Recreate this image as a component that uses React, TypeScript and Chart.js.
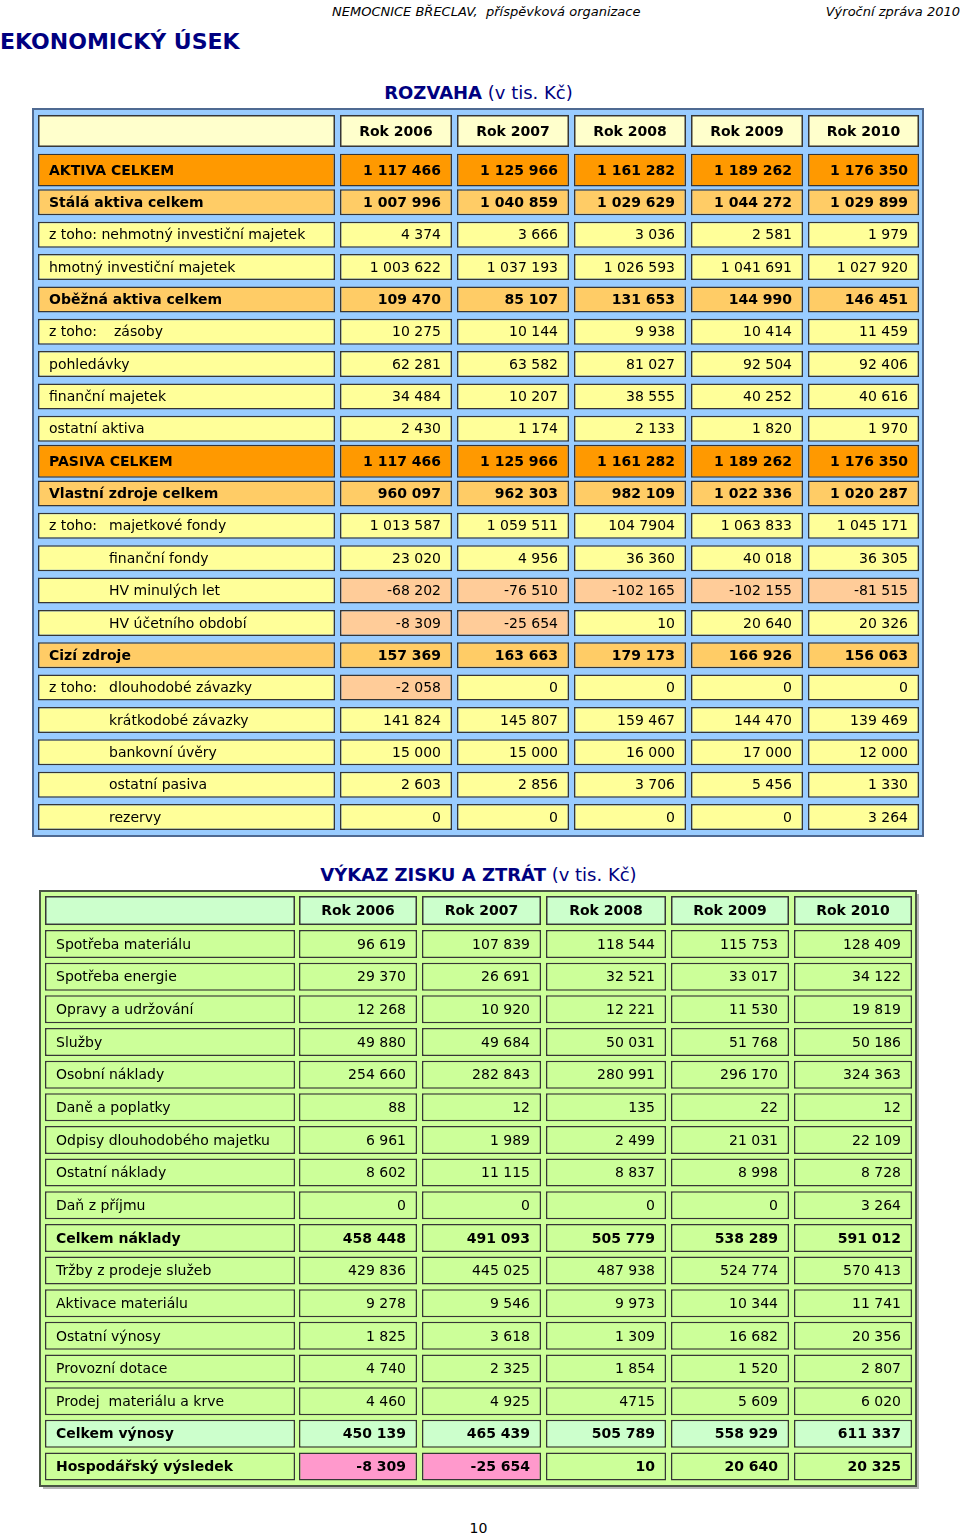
import React, { useEffect, useRef } from 'react';
import { Chart, registerables } from 'chart.js';

Chart.register(...registerables);

const FONT = '"DejaVu Sans", Verdana, sans-serif';

// ---------- DATA ----------
const YEARS = ['Rok 2006', 'Rok 2007', 'Rok 2008', 'Rok 2009', 'Rok 2010'];

const ROZVAHA_LABELS = [
  'AKTIVA CELKEM',
  'Stálá aktiva celkem',
  'z toho: nehmotný investiční majetek',
  'hmotný investiční majetek',
  'Oběžná aktiva celkem',
  'z toho:\tzásoby',
  'pohledávky',
  'finanční majetek',
  'ostatní aktiva',
  'PASIVA CELKEM',
  'Vlastní zdroje celkem',
  'z toho:\tmajetkové fondy',
  'finanční fondy',
  'HV minulých let',
  'HV účetního období',
  'Cizí zdroje',
  'z toho:\tdlouhodobé závazky',
  'krátkodobé závazky',
  'bankovní úvěry',
  'ostatní pasiva',
  'rezervy',
];
const ROZVAHA_2006 = ['1 117 466', '1 007 996', '4 374', '1 003 622', '109 470', '10 275', '62 281', '34 484', '2 430', '1 117 466', '960 097', '1 013 587', '23 020', '-68 202', '-8 309', '157 369', '-2 058', '141 824', '15 000', '2 603', '0'];
const ROZVAHA_2007 = ['1 125 966', '1 040 859', '3 666', '1 037 193', '85 107', '10 144', '63 582', '10 207', '1 174', '1 125 966', '962 303', '1 059 511', '4 956', '-76 510', '-25 654', '163 663', '0', '145 807', '15 000', '2 856', '0'];
const ROZVAHA_2008 = ['1 161 282', '1 029 629', '3 036', '1 026 593', '131 653', '9 938', '81 027', '38 555', '2 133', '1 161 282', '982 109', '104 7904', '36 360', '-102 165', '10', '179 173', '0', '159 467', '16 000', '3 706', '0'];
const ROZVAHA_2009 = ['1 189 262', '1 044 272', '2 581', '1 041 691', '144 990', '10 414', '92 504', '40 252', '1 820', '1 189 262', '1 022 336', '1 063 833', '40 018', '-102 155', '20 640', '166 926', '0', '144 470', '17 000', '5 456', '0'];
const ROZVAHA_2010 = ['1 176 350', '1 029 899', '1 979', '1 027 920', '146 451', '11 459', '92 406', '40 616', '1 970', '1 176 350', '1 020 287', '1 045 171', '36 305', '-81 515', '20 326', '156 063', '0', '139 469', '12 000', '1 330', '3 264'];

const VZZ_LABELS = [
  'Spotřeba materiálu',
  'Spotřeba energie',
  'Opravy a udržování',
  'Služby',
  'Osobní náklady',
  'Daně a poplatky',
  'Odpisy dlouhodobého majetku',
  'Ostatní náklady',
  'Daň z příjmu',
  'Celkem náklady',
  'Tržby z prodeje služeb',
  'Aktivace materiálu',
  'Ostatní výnosy',
  'Provozní dotace',
  'Prodej  materiálu a krve',
  'Celkem výnosy',
  'Hospodářský výsledek',
];
const VZZ_2006 = ['96 619', '29 370', '12 268', '49 880', '254 660', '88', '6 961', '8 602', '0', '458 448', '429 836', '9 278', '1 825', '4 740', '4 460', '450 139', '-8 309'];
const VZZ_2007 = ['107 839', '26 691', '10 920', '49 684', '282 843', '12', '1 989', '11 115', '0', '491 093', '445 025', '9 546', '3 618', '2 325', '4 925', '465 439', '-25 654'];
const VZZ_2008 = ['118 544', '32 521', '12 221', '50 031', '280 991', '135', '2 499', '8 837', '0', '505 779', '487 938', '9 973', '1 309', '1 854', '4715', '505 789', '10'];
const VZZ_2009 = ['115 753', '33 017', '11 530', '51 768', '296 170', '22', '21 031', '8 998', '0', '538 289', '524 774', '10 344', '16 682', '1 520', '5 609', '558 929', '20 640'];
const VZZ_2010 = ['128 409', '34 122', '19 819', '50 186', '324 363', '12', '22 109', '8 728', '3 264', '591 012', '570 413', '11 741', '20 356', '2 807', '6 020', '611 337', '20 325'];

// ---------- STYLES (row kinds, indents, highlighted cells) ----------
const ROZVAHA_KINDS = ['total', 'sub', 'item', 'item', 'sub', 'item', 'item', 'item', 'item', 'total', 'sub', 'item', 'item', 'item', 'item', 'sub', 'item', 'item', 'item', 'item', 'item'];
const ROZVAHA_INDENT = [0, 0, 0, 0, 0, 76, 0, 0, 0, 0, 0, 71, 71, 71, 71, 0, 71, 71, 71, 71, 71];
const ROZVAHA_HIGHLIGHT = [[13, 1], [13, 2], [13, 3], [13, 4], [13, 5], [14, 1], [14, 2], [16, 1]];

const VZZ_KINDS = ['item', 'item', 'item', 'item', 'item', 'item', 'item', 'item', 'item', 'sum', 'item', 'item', 'item', 'item', 'item', 'sumMint', 'sum'];
const VZZ_INDENT = VZZ_LABELS.map(() => 0);
const VZZ_HIGHLIGHT = [[16, 1], [16, 2]];

type Cfg = {
  left: number; top: number; width: number; height: number;
  labels: string[]; values: string[][]; kinds: string[]; indent: number[];
  highlight: number[][]; highlightColor: string;
  kindColors: Record<string, string>; boldKinds: string[];
  headerColor: string; headerOffset: number; headerHeight: number;
  edges: number[][]; padTop: number; padBottom: number;
  rowHeight: number; tallHeight: number;
  frame: { x0: number; y0: number; x1: number; y1: number; color: string; bg: string; shadow?: string };
};

const CELL_BORDER = '#363636';
const CELL_BW = 1.5;

const ROZVAHA_CFG: Cfg = {
  left: 32, top: 107, width: 894, height: 733,
  labels: ROZVAHA_LABELS,
  values: [ROZVAHA_2006, ROZVAHA_2007, ROZVAHA_2008, ROZVAHA_2009, ROZVAHA_2010],
  kinds: ROZVAHA_KINDS, indent: ROZVAHA_INDENT,
  highlight: ROZVAHA_HIGHLIGHT, highlightColor: '#ffcc99',
  kindColors: { total: '#ff9900', sub: '#ffcc66', item: '#ffff99' },
  boldKinds: ['total', 'sub'],
  headerColor: '#ffffcc', headerOffset: 39, headerHeight: 32,
  edges: [[6, 303], [308, 420], [425, 537], [542, 654], [659, 771], [776, 887]],
  padTop: 46.8, padBottom: 6.8, rowHeight: 26, tallHeight: 33,
  frame: { x0: 1, y0: 2, x1: 891, y1: 729, color: '#4f6a92', bg: '#99ccff' },
};

const VZZ_CFG: Cfg = {
  left: 39, top: 889, width: 882, height: 603,
  labels: VZZ_LABELS,
  values: [VZZ_2006, VZZ_2007, VZZ_2008, VZZ_2009, VZZ_2010],
  kinds: VZZ_KINDS, indent: VZZ_INDENT,
  highlight: VZZ_HIGHLIGHT, highlightColor: '#ff99cc',
  kindColors: { item: '#ccff99', sum: '#ccff99', sumMint: '#ccffcc' },
  boldKinds: ['sum', 'sumMint'],
  headerColor: '#ccffcc', headerOffset: 33.5, headerHeight: 29,
  edges: [[6, 256], [260, 378], [383, 502], [507, 627], [632, 750], [755, 873]],
  padTop: 38.7, padBottom: 9.2, rowHeight: 28, tallHeight: 28,
  frame: { x0: 1, y0: 2, x1: 877, y1: 597, color: '#4a5545', bg: '#ccff99', shadow: '#b8b8b8' },
};

function cellColor(cfg: Cfg, r: number, c: number): string {
  for (const h of cfg.highlight) if (h[0] === r && h[1] === c) return cfg.highlightColor;
  return cfg.kindColors[cfg.kinds[r]] || '#ffffff';
}

function makePlugin(cfg: Cfg) {
  return {
    id: 'tableCells',
    beforeDraw(chart: any) {
      const ctx = chart.ctx;
      const f = cfg.frame;
      ctx.save();
      if (f.shadow) {
        ctx.fillStyle = f.shadow;
        ctx.fillRect(f.x0 + 3, f.y0 + 3, f.x1 - f.x0, f.y1 - f.y0);
      }
      ctx.fillStyle = f.bg;
      ctx.fillRect(f.x0, f.y0, f.x1 - f.x0, f.y1 - f.y0);
      ctx.strokeStyle = f.color;
      ctx.lineWidth = 2;
      ctx.strokeRect(f.x0, f.y0, f.x1 - f.x0, f.y1 - f.y0);
      ctx.restore();
    },
    afterDatasetsDraw(chart: any) {
      const ctx = chart.ctx;
      const xs = chart.scales.x;
      const ys = chart.scales.y;
      ctx.save();
      ctx.fillStyle = '#000';
      // header row, anchored to the first category row
      const hy = ys.getPixelForValue(0) - cfg.headerOffset;
      for (let c = 0; c < cfg.edges.length; c++) {
        const l = xs.getPixelForValue(cfg.edges[c][0]);
        const r = xs.getPixelForValue(cfg.edges[c][1]);
        const t = hy - cfg.headerHeight / 2;
        ctx.fillStyle = CELL_BORDER;
        ctx.fillRect(l, t, r - l, cfg.headerHeight);
        ctx.fillStyle = cfg.headerColor;
        ctx.fillRect(l + CELL_BW, t + CELL_BW, r - l - 2 * CELL_BW, cfg.headerHeight - 2 * CELL_BW);
        if (c > 0) {
          ctx.fillStyle = '#000';
          ctx.font = `bold 14px ${FONT}`;
          ctx.textAlign = 'center';
          ctx.textBaseline = 'middle';
          ctx.fillText(YEARS[c - 1], (l + r) / 2, hy + 1);
        }
      }
      // cell texts
      chart.data.datasets.forEach((ds: any, i: number) => {
        const meta = chart.getDatasetMeta(i);
        const c = ds.col;
        meta.data.forEach((el: any, r: number) => {
          if (ds.data[r] == null) return;
          const p = el.getProps(['x', 'y', 'base'], true);
          const left = Math.min(p.x, p.base);
          const right = Math.max(p.x, p.base);
          const bold = cfg.boldKinds.includes(cfg.kinds[r]);
          ctx.font = `${bold ? 'bold ' : ''}14px ${FONT}`;
          ctx.fillStyle = '#000';
          ctx.textBaseline = 'middle';
          const ty = p.y + 1;
          if (c === 0) {
            ctx.textAlign = 'left';
            const label = cfg.labels[r];
            const parts = label.split('\t');
            if (parts.length > 1) {
              ctx.fillText(parts[0], left + 11, ty);
              ctx.fillText(parts[1], left + cfg.indent[r], ty);
            } else if (cfg.indent[r] > 0) {
              ctx.fillText(label, left + cfg.indent[r], ty);
            } else {
              ctx.fillText(label, left + 11, ty);
            }
          } else {
            ctx.textAlign = 'right';
            ctx.fillText(cfg.values[c - 1][r], right - 11, ty);
          }
        });
      });
      ctx.restore();
    },
  };
}

function buildConfig(cfg: Cfg): any {
  const datasets: any[] = [];
  for (let c = 0; c < cfg.edges.length; c++) {
    for (const tall of [false, true]) {
      const data = cfg.labels.map((_, r) =>
        (cfg.kinds[r] === 'total') === tall ? [cfg.edges[c][0], cfg.edges[c][1]] : null
      );
      if (data.every((d) => d === null)) continue;
      datasets.push({
        col: c,
        label: c === 0 ? 'label' : YEARS[c - 1],
        data,
        barThickness: tall ? cfg.tallHeight : cfg.rowHeight,
        backgroundColor: (ctx: any) => cellColor(cfg, ctx.dataIndex, c),
        borderColor: CELL_BORDER,
        borderWidth: CELL_BW,
        borderSkipped: false,
        inflateAmount: 0,
        grouped: false,
      });
    }
  }
  return {
    type: 'bar',
    data: { labels: cfg.labels, datasets },
    options: {
      indexAxis: 'y',
      animation: false,
      responsive: false,
      devicePixelRatio: 1,
      events: [],
      layout: { padding: { top: cfg.padTop, bottom: cfg.padBottom, left: 0, right: 0 } },
      scales: {
        x: { type: 'linear', display: false, min: 0, max: cfg.width },
        y: { type: 'category', display: false, offset: true },
      },
      plugins: { legend: { display: false }, tooltip: { enabled: false }, title: { display: false } },
    },
    plugins: [makePlugin(cfg)],
  };
}

function TableChart({ cfg }: { cfg: Cfg }) {
  const ref = useRef<HTMLCanvasElement>(null);
  useEffect(() => {
    if (!ref.current) return;
    const chart = new Chart(ref.current, buildConfig(cfg));
    return () => chart.destroy();
  }, [cfg]);
  return (
    <div style={{ position: 'absolute', left: cfg.left, top: cfg.top, width: cfg.width, height: cfg.height }}>
      <canvas ref={ref} width={cfg.width} height={cfg.height} style={{ width: cfg.width, height: cfg.height, display: 'block' }} />
    </div>
  );
}

const navy = '#000080';

export default function App() {
  return (
    <div style={{ position: 'absolute', left: 0, top: 0, width: 960, height: 1537, background: '#fff', fontFamily: FONT, overflow: 'hidden' }}>
      <div style={{ position: 'absolute', left: 332, top: 5, fontSize: 13, lineHeight: '13px', fontStyle: 'italic', whiteSpace: 'pre', color: '#000' }}>
        NEMOCNICE BŘECLAV,  příspěvková organizace
      </div>
      <div style={{ position: 'absolute', right: 0, top: 5, fontSize: 13, lineHeight: '13px', fontStyle: 'italic', whiteSpace: 'nowrap', color: '#000' }}>
        Výroční zpráva 2010
      </div>
      <div style={{ position: 'absolute', left: 0, top: 31, fontSize: 22, lineHeight: '22px', fontWeight: 'bold', color: navy, whiteSpace: 'nowrap' }}>
        EKONOMICKÝ ÚSEK
      </div>
      <div style={{ position: 'absolute', left: 0, width: 957, top: 84, fontSize: 18, lineHeight: '18px', color: navy, textAlign: 'center', whiteSpace: 'nowrap' }}>
        <b>ROZVAHA</b> (v tis. Kč)
      </div>
      <TableChart cfg={ROZVAHA_CFG} />
      <div style={{ position: 'absolute', left: 0, width: 957, top: 866, fontSize: 18, lineHeight: '18px', color: navy, textAlign: 'center', whiteSpace: 'nowrap' }}>
        <b>VÝKAZ ZISKU A ZTRÁT</b> (v tis. Kč)
      </div>
      <TableChart cfg={VZZ_CFG} />
      <div style={{ position: 'absolute', left: 0, width: 957, top: 1521, fontSize: 14, lineHeight: '14px', color: '#000', textAlign: 'center' }}>
        10
      </div>
    </div>
  );
}
